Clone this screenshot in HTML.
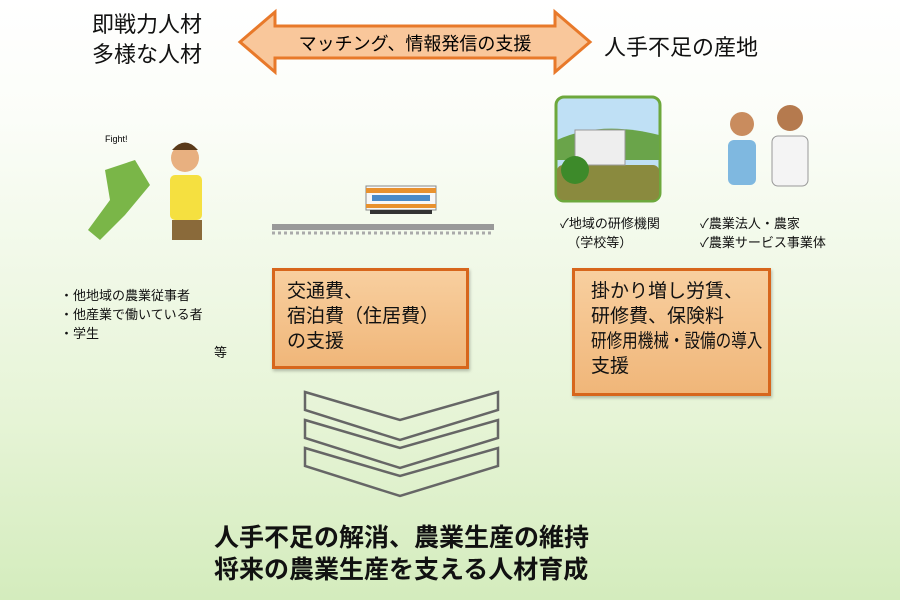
<!DOCTYPE html>
<html><head><meta charset="utf-8"><style>
body{margin:0;width:900px;height:600px;overflow:hidden;background:linear-gradient(#fff 0%,#fbfdf8 20%,#e6f4d6 70%,#d4ecbd 100%);font-family:"Liberation Sans","Noto Sans CJK JP",sans-serif;position:relative;color:#111}
.t{position:absolute;white-space:nowrap}
.box{position:absolute;background:linear-gradient(#f8cf9f,#f0b679);border:3px solid #d7661c;box-shadow:1px 2px 3px rgba(0,0,0,.25);font-size:19px;line-height:25px;padding:6px 12px;box-sizing:border-box;white-space:nowrap}
</style></head><body>
<div class="t" style="left:92px;top:10px;font-size:22px;line-height:30px">即戦力人材<br>多様な人材</div>
<div class="t" style="left:604px;top:30px;font-size:22px">人手不足の産地</div>
<svg style="position:absolute;left:0;top:0" width="900" height="600">
<polygon points="240,42 275,12 275,26 555,26 555,12 590,42 555,72 555,58 275,58 275,72" fill="#f9c79b" stroke="#e8792a" stroke-width="3"/>
<text x="415" y="50" font-size="18" text-anchor="middle" font-family="Liberation Sans,Noto Sans CJK JP,sans-serif">マッチング、情報発信の支援</text>
<rect x="366" y="186" width="70" height="24" fill="#f7f7f7" stroke="#888"/>
<rect x="366" y="188" width="70" height="5" fill="#e8912e"/>
<rect x="366" y="204" width="70" height="4" fill="#e8912e"/>
<rect x="372" y="195" width="58" height="6" fill="#4a8ac8"/>
<rect x="370" y="210" width="62" height="4" fill="#333"/>
<rect x="272" y="224" width="222" height="6" fill="#999"/>
<line x1="272" y1="233" x2="494" y2="233" stroke="#aaa" stroke-width="3" stroke-dasharray="3,3"/>
<rect x="556" y="97" width="104" height="104" rx="8" fill="#bfe0f5" stroke="#6da83c" stroke-width="3"/>
<rect x="557" y="165" width="102" height="35" rx="6" fill="#8a8a3e"/>
<path d="M557 140 Q600 120 659 135 L659 160 L557 160Z" fill="#6aa44a"/>
<rect x="575" y="130" width="50" height="35" fill="#eee" stroke="#999"/>
<circle cx="575" cy="170" r="14" fill="#3d8a2a"/>
<circle cx="742" cy="124" r="12" fill="#c98c5e"/><rect x="728" y="140" width="28" height="45" rx="6" fill="#7fb8e0"/>
<circle cx="790" cy="118" r="13" fill="#b57a4e"/><rect x="772" y="136" width="36" height="50" rx="6" fill="#f4f4f4" stroke="#999"/>
<path d="M105 170 L135 160 L150 185 L125 215 L100 240 L88 230 L110 200Z" fill="#7ab648"/>
<circle cx="185" cy="158" r="14" fill="#e8b080"/><path d="M172 150 Q185 135 198 150Z" fill="#5a3a1a"/>
<rect x="170" y="175" width="32" height="45" rx="5" fill="#f5e040"/>
<rect x="172" y="220" width="30" height="20" fill="#8a6a3a"/>
<text x="105" y="142" font-size="9" font-family="Liberation Sans,sans-serif">Fight!</text>
<g fill="none" stroke="#666" stroke-width="2.5">
<polygon points="305,392 400,420 498,392 498,410 400,440 305,410"/>
<polygon points="305,420 400,448 498,420 498,438 400,468 305,438"/>
<polygon points="305,448 400,476 498,448 498,466 400,496 305,466"/>
</g>
</svg>
<div class="t" style="left:560px;top:214px;font-size:13px;line-height:19px">✓地域の研修機関<br>&nbsp;&nbsp;（学校等）</div>
<div class="t" style="left:700px;top:214px;font-size:13px;line-height:19px">✓農業法人・農家<br>✓農業サービス事業体</div>
<div class="t" style="left:60px;top:286px;font-size:13px;line-height:19px">・他地域の農業従事者<br>・他産業で働いている者<br>・学生</div>
<div class="t" style="left:214px;top:342px;font-size:13px">等</div>
<div class="box" style="left:272px;top:268px;width:197px;height:101px;padding-top:8px">交通費、<br>宿泊費（住居費）<br>の支援</div>
<div class="box" style="left:572px;top:268px;width:199px;height:128px;padding-left:16px;padding-top:8px">掛かり増し労賃、<br>研修費、保険料<br><span style="display:inline-block;transform:scaleX(0.82);transform-origin:left">研修用機械・設備の導入</span><br>支援</div>
<div class="t" style="left:214px;top:522px;font-size:25px;font-weight:bold;line-height:32px">人手不足の解消、農業生産の維持<br>将来の農業生産を支える人材育成</div>
</body></html>
